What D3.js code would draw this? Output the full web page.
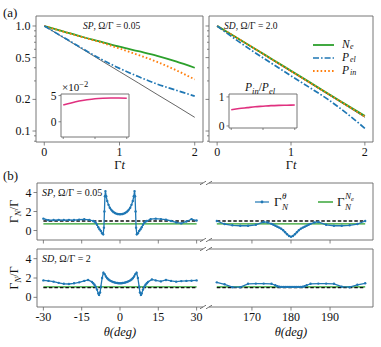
<!DOCTYPE html>
<html>
<head>
<meta charset="utf-8">
<script src="https://cdn.jsdelivr.net/npm/d3@7"></script>
<style>
  body { margin: 0; background: #fff; }
  svg text { font-family: "Liberation Serif", "DejaVu Serif", serif; fill: #111; }
</style>
</head>
<body>
<svg id="chart" width="381" height="347"></svg>
<script>
// ---- panel (a): populations vs Γt ----
const tGrid = [0, 0.25, 0.5, 0.75, 1, 1.25, 1.5, 1.75, 2];
const expRef = [1, 0.779, 0.607, 0.472, 0.368, 0.287, 0.223, 0.174, 0.135];
const neSP  = [1, 0.89, 0.79, 0.71, 0.635, 0.575, 0.52, 0.46, 0.40];
const pelSP = [1, 0.785, 0.615, 0.485, 0.395, 0.33, 0.28, 0.245, 0.215];
const pinSP = [1, 0.885, 0.785, 0.70, 0.61, 0.53, 0.455, 0.38, 0.31];
const neSD  = [1, 0.785, 0.615, 0.48, 0.375, 0.293, 0.228, 0.178, 0.139];
const pelSD = [1, 0.745, 0.565, 0.435, 0.335, 0.26, 0.2, 0.148, 0.106];
const pinSD = [1, 0.783, 0.612, 0.477, 0.372, 0.29, 0.226, 0.176, 0.137];
const insetSP = [3.2, 3.6, 3.95, 4.2, 4.4, 4.5, 4.55, 4.55, 4.5];   // x10^-2
const insetSD = [0.56, 0.6, 0.63, 0.66, 0.68, 0.7, 0.71, 0.715, 0.72];
const logTicks = [1.0, 0.5, 0.2, 0.1];
const logMinor = [0.08, 0.09, 0.3, 0.4, 0.6, 0.7, 0.8, 0.9];
const tTicks = [0, 1, 2];

// ---- panel (b): Γ_N/Γ vs θ ----
const spLeft = [[-30,1.25],[-28,1.08],[-26,1.1],[-24,1.12],[-22,1.1],[-20,1.12],[-18,1.1],[-16,1.15],[-14,1.18],[-12,1.12],
  [-10.5,1.0],[-10,0.95],[-9.5,0.8],[-9,0.6],[-8.5,0.35],[-8,0.12],[-7.5,-0.05],[-7,-0.3],[-6.6,-0.4],[-6.3,0.3],[-6.1,2.0],[-5.9,3.6],[-5.7,4.15],
  [-5.4,3.6],[-5,3.1],[-4.5,2.7],[-4,2.4],[-3.5,2.2],[-3,2.05],[-2.5,1.93],[-2,1.85],[-1.5,1.78],[-1,1.74],[-0.5,1.72],[0,1.71],
  [0.5,1.72],[1,1.74],[1.5,1.78],[2,1.85],[2.5,1.93],[3,2.05],[3.5,2.2],[4,2.4],[4.5,2.7],[5,3.1],[5.4,3.6],[5.7,4.15],[5.9,3.6],[6.1,2.0],
  [6.3,0.3],[6.6,-0.4],[7,-0.3],[7.5,-0.05],[8,0.12],[8.5,0.35],[9,0.6],[9.5,0.8],[10,0.95],[10.5,1.0],
  [12,1.2],[14,1.25],[16,1.2],[18,1.15],[20,1.0],[22,0.85],[24,0.75],[26,0.95],[28,1.2],[30,1.05]];
const spRight = [[161,1.0],[163,0.68],[165,0.55],[167,0.5],[169,0.5],[171,0.6],[173,0.9],[174,0.85],
  [175,0.7],[175.5,0.6],[176,0.5],[176.5,0.4],[177,0.3],[177.5,0.18],[178,0.02],[178.5,-0.18],[179,-0.4],[179.5,-0.58],[180,-0.65],
  [180.5,-0.58],[181,-0.4],[181.5,-0.18],[182,0.02],[182.5,0.18],[183,0.3],[183.5,0.4],[184,0.5],[184.5,0.6],[185,0.7],
  [186,0.85],[187,0.9],[189,0.6],[191,0.5],[193,0.5],[195,0.55],[197,0.68],[199,1.0]];
const sdLeft = [[-30,1.75],[-28,1.7],[-26,1.62],[-24,1.5],[-22,1.4],[-20,1.38],[-18,1.45],[-16,1.55],[-14,1.7],[-12.5,1.8],
  [-11,1.6],[-10.5,1.45],[-10,1.3],[-9.5,1.1],[-9,0.8],[-8.5,0.4],[-8.2,0.25],[-7.8,0.5],[-7.5,1.1],[-7,2.0],[-6.5,2.55],
  [-6,2.4],[-5.5,2.15],[-5,1.98],[-4.5,1.85],[-4,1.75],[-3.5,1.68],[-3,1.62],[-2.5,1.57],[-2,1.53],[-1.5,1.5],[-1,1.48],[-0.5,1.46],[0,1.45],
  [0.5,1.46],[1,1.48],[1.5,1.5],[2,1.53],[2.5,1.57],[3,1.62],[3.5,1.68],[4,1.75],[4.5,1.85],[5,1.98],[5.5,2.15],[6,2.4],[6.5,2.55],
  [7,2.0],[7.5,1.1],[7.8,0.5],[8.2,0.25],[8.5,0.4],[9,0.8],[9.5,1.1],[10,1.3],[10.5,1.45],[11,1.6],
  [12.5,1.85],[14,1.75],[16,1.65],[18,1.8],[20,1.7],[22,1.62],[24,1.68],[26,1.7],[28,1.72],[30,1.75]];
const sdRight = [[161,1.55],[163,1.35],[165,1.05],[167,1.05],[169,1.4],[171,1.42],[173,1.42],[175,1.4],[176,1.25],[176.5,1.15],
  [177,1.1],[177.5,1.08],[178,1.08],[178.5,1.08],[179,1.08],[179.5,1.08],[180,1.08],[180.5,1.08],[181,1.08],[181.5,1.08],[182,1.08],
  [182.5,1.08],[183,1.1],[183.5,1.15],[184,1.25],[185,1.4],[187,1.42],[189,1.42],[191,1.4],[193,1.1],[195,1.05],[197,1.3],[199,1.45]];
const neRateSP = 0.7;   // Γ_N^{Ne}/Γ
const neRateSD = 1.08;
const unitRef = 1.0;     // dashed reference
const thetaTicksL = [-30, -15, 0, 15, 30];
const thetaTicksR = [170, 180, 190];
const gammaTicks = [0, 2, 4];

const colors = { ne: "#2ca02c", pel: "#1f77b4", pin: "#ff7f0e", ratio: "#e0307f" };
const svg = d3.select("#chart");
const spine = "#666";

function box(g, x0, x1, y0, y1, sides) {
  const seg = { t: [x0, y0, x1, y0], b: [x0, y1, x1, y1], l: [x0, y0, x0, y1], r: [x1, y0, x1, y1] };
  sides.split("").forEach(s => {
    const c = seg[s];
    g.append("line").attr("x1", c[0]).attr("y1", c[1]).attr("x2", c[2]).attr("y2", c[3])
      .attr("stroke", spine).attr("stroke-width", 0.9);
  });
}
function xTicks(g, scale, ticks, y, labels, len = 3.5) {
  ticks.forEach(t => {
    g.append("line").attr("x1", scale(t)).attr("x2", scale(t)).attr("y1", y).attr("y2", y + len)
      .attr("stroke", spine).attr("stroke-width", 0.8);
    if (labels) g.append("text").attr("x", scale(t)).attr("y", y + 13.5).attr("text-anchor", "middle")
      .attr("font-size", 12).text(labels(t));
  });
}
function yTicks(g, scale, ticks, x, labels, len = 3.5, size = 12) {
  ticks.forEach(t => {
    g.append("line").attr("x1", x - len).attr("x2", x).attr("y1", scale(t)).attr("y2", scale(t))
      .attr("stroke", spine).attr("stroke-width", 0.8);
    if (labels) g.append("text").attr("x", x - len - 2).attr("y", scale(t) + 4).attr("text-anchor", "end")
      .attr("font-size", size).text(labels(t));
  });
}

// ================= panel (a) =================
const yA = d3.scaleLog().domain([0.0786, 1.245]).range([142, 16]);
const panelsA = [
  { x0: 36, x1: 203, ne: neSP, pel: pelSP, pin: pinSP, label: ["SP", ", Ω/Γ = 0.05"], lx: 83, inset: "sp" },
  { x0: 209, x1: 373, ne: neSD, pel: pelSD, pin: pinSD, label: ["SD", ", Ω/Γ = 2.0"], lx: 224, inset: "sd" }
];
panelsA.forEach((p, i) => {
  const g = svg.append("g");
  const x = d3.scaleLinear().domain([-0.11, 2.11]).range([p.x0, p.x1]);
  const line = vals => d3.line().curve(d3.curveMonotoneX).x((d, k) => x(tGrid[k])).y(d => yA(d))(vals);
  g.append("path").attr("d", line(expRef)).attr("fill", "none").attr("stroke", "#222").attr("stroke-width", 0.7);
  g.append("path").attr("d", line(p.ne)).attr("fill", "none").attr("stroke", colors.ne).attr("stroke-width", 1.8);
  g.append("path").attr("d", line(p.pin)).attr("fill", "none").attr("stroke", colors.pin).attr("stroke-width", 1.9)
    .attr("stroke-dasharray", "1.6,2.2");
  g.append("path").attr("d", line(p.pel)).attr("fill", "none").attr("stroke", colors.pel).attr("stroke-width", 1.7)
    .attr("stroke-dasharray", "6,2,1.6,2");
  box(g, p.x0, p.x1, 16, 142, "tblr");
  xTicks(g, x, tTicks, 142, d => d);
  yTicks(g, yA, logTicks, p.x0, i === 0 ? d3.format(".1f") : null, 3.5, 12);
  yTicks(g, yA, logMinor, p.x0, null, 2);
  g.append("text").attr("x", x(1)).attr("y", 169).attr("text-anchor", "middle").attr("font-size", 12.5)
    .html('Γ<tspan font-style="italic">t</tspan>');
  g.append("text").attr("x", p.lx).attr("y", 29).attr("font-size", 9.5)
    .html(`<tspan font-style="italic">${p.label[0]}</tspan>${p.label[1]}`);

  // inset
  const ins = p.inset === "sp"
    ? { x0: 61, x1: 129, y0: 94, y1: 137, dom: [-2.9, 5.3], vals: insetSP, ticks: [0, 5] }
    : { x0: 229, x1: 297, y0: 94, y1: 128, dom: [-0.07, 1.1], vals: insetSD, ticks: [0, 1] };
  const ix = d3.scaleLinear().domain([-0.07, 2.07]).range([ins.x0, ins.x1]);
  const iy = d3.scaleLinear().domain(ins.dom).range([ins.y1, ins.y0]);
  g.append("rect").attr("x", ins.x0).attr("y", ins.y0).attr("width", ins.x1 - ins.x0).attr("height", ins.y1 - ins.y0)
    .attr("fill", "#fff");
  g.append("path").attr("d", d3.line().curve(d3.curveMonotoneX).x((d, k) => ix(tGrid[k])).y(d => iy(d))(ins.vals))
    .attr("fill", "none").attr("stroke", colors.ratio).attr("stroke-width", 1.6);
  box(g, ins.x0, ins.x1, ins.y0, ins.y1, "tblr");
  xTicks(g, ix, tTicks, ins.y1, null, 2);
  yTicks(g, iy, ins.ticks, ins.x0, d => d, 2.5, 11.5);
  if (p.inset === "sp") {
    g.append("text").attr("x", 62).attr("y", 91).attr("font-size", 11)
      .html('×10<tspan dy="-4" font-size="8.5">−2</tspan>');
  } else {
    g.append("text").attr("x", 245).attr("y", 91).attr("font-size", 11.5)
      .html('<tspan font-style="italic">P</tspan><tspan dy="3" font-size="8.5" font-style="italic">in</tspan><tspan dy="-3">/</tspan><tspan font-style="italic">P</tspan><tspan dy="3" font-size="8.5" font-style="italic">el</tspan>');
  }
});

// legend (a)
const legA = [
  { y: 45, c: colors.ne, dash: null, w: 1.8, main: "N", sub: "e" },
  { y: 58, c: colors.pel, dash: "6,2,1.6,2", w: 1.7, main: "P", sub: "el" },
  { y: 71, c: colors.pin, dash: "1.6,2.2", w: 1.9, main: "P", sub: "in" }
];
legA.forEach(l => {
  svg.append("line").attr("x1", 313).attr("x2", 334).attr("y1", l.y).attr("y2", l.y)
    .attr("stroke", l.c).attr("stroke-width", l.w).attr("stroke-dasharray", l.dash);
  svg.append("text").attr("x", 342).attr("y", l.y + 3).attr("font-size", 11.5).attr("font-style", "italic")
    .text(l.main);
  svg.append("text").attr("x", 350).attr("y", l.y + 3.5).attr("font-size", 8).attr("font-style", "italic")
    .text(l.sub);
});
svg.append("text").attr("x", 3).attr("y", 17).attr("font-size", 13).text("(a)");
svg.append("text").attr("x", 3).attr("y", 180).attr("font-size", 13).text("(b)");

// ================= panel (b) =================
const rowsB = [
  { y0: 183, y1: 240, left: spLeft, right: spRight, ne: neRateSP, label: ["SP", ", Ω/Γ = 0.05"], last: false },
  { y0: 249, y1: 307, left: sdLeft, right: sdRight, ne: neRateSD, label: ["SD", ", Ω/Γ = 2"], last: true }
];
const xL = d3.scaleLinear().domain([-32.5, 32.5]).range([37, 203]);
const xR = d3.scaleLinear().domain([159, 201]).range([209, 373]);
rowsB.forEach(r => {
  const g = svg.append("g");
  const y = d3.scaleLinear().domain([-1, 5]).range([r.y1, r.y0]);
  [[xL, r.left, [-30, 30]], [xR, r.right, [161, 199]]].forEach(([x, data, ext]) => {
    g.append("line").attr("x1", x(ext[0])).attr("x2", x(ext[1])).attr("y1", y(r.ne)).attr("y2", y(r.ne))
      .attr("stroke", colors.ne).attr("stroke-width", 1.4);
    g.append("line").attr("x1", x(ext[0])).attr("x2", x(ext[1])).attr("y1", y(unitRef)).attr("y2", y(unitRef))
      .attr("stroke", "#111").attr("stroke-width", 1.3).attr("stroke-dasharray", "3.5,2");
    g.append("path").attr("d", d3.line().x(d => x(d[0])).y(d => y(d[1]))(data))
      .attr("fill", "none").attr("stroke", colors.pel).attr("stroke-width", 1.3);
    g.selectAll(null).data(data).enter().append("circle")
      .attr("cx", d => x(d[0])).attr("cy", d => y(d[1])).attr("r", 1.2).attr("fill", colors.pel);
  });
  box(g, 37, 203, r.y0, r.y1, "tbl");
  box(g, 209, 373, r.y0, r.y1, "tbr");
  // broken-axis marks
  [[203, r.y0], [203, r.y1], [209, r.y0], [209, r.y1]].forEach(([bx, by]) => {
    g.append("line").attr("x1", bx - 3).attr("y1", by + 1.8).attr("x2", bx + 3).attr("y2", by - 1.8)
      .attr("stroke", spine).attr("stroke-width", 0.9);
  });
  xTicks(g, xL, thetaTicksL, r.y1, r.last ? d => d : null);
  xTicks(g, xR, thetaTicksR, r.y1, r.last ? d => d : null);
  yTicks(g, y, gammaTicks, 37, d => d);
  g.append("text").attr("x", 42).attr("y", r.y0 + 13).attr("font-size", 10)
    .html(`<tspan font-style="italic">${r.label[0]}</tspan>${r.label[1]}`);
  const cy = (r.y0 + r.y1) / 2;
  g.append("text").attr("transform", `translate(18,${cy}) rotate(-90)`).attr("text-anchor", "middle")
    .attr("font-size", 12).html('Γ<tspan dy="3" font-size="9" font-style="italic">N</tspan><tspan dy="-3">/Γ</tspan>');
});
svg.append("text").attr("x", xL(0)).attr("y", 336).attr("text-anchor", "middle").attr("font-size", 12.5)
  .attr("font-style", "italic").text("θ(deg)");
svg.append("text").attr("x", xR(180)).attr("y", 336).attr("text-anchor", "middle").attr("font-size", 12.5)
  .attr("font-style", "italic").text("θ(deg)");

// legend (b)
svg.append("line").attr("x1", 255).attr("x2", 269).attr("y1", 202).attr("y2", 202)
  .attr("stroke", colors.pel).attr("stroke-width", 1.2);
svg.append("circle").attr("cx", 262).attr("cy", 202).attr("r", 1.4).attr("fill", colors.pel);
svg.append("text").attr("x", 274).attr("y", 206).attr("font-size", 13).text("Γ");
svg.append("text").attr("x", 282).attr("y", 210).attr("font-size", 9).attr("font-style", "italic").text("N");
svg.append("text").attr("x", 282).attr("y", 199).attr("font-size", 9).attr("font-style", "italic").text("θ");
svg.append("line").attr("x1", 318).attr("x2", 333).attr("y1", 202).attr("y2", 202)
  .attr("stroke", colors.ne).attr("stroke-width", 1.4);
svg.append("text").attr("x", 337).attr("y", 206).attr("font-size", 13).text("Γ");
svg.append("text").attr("x", 345).attr("y", 210).attr("font-size", 9).attr("font-style", "italic").text("N");
svg.append("text").attr("x", 345).attr("y", 199).attr("font-size", 9).attr("font-style", "italic")
  .html('N<tspan dy="2" font-size="6.5">e</tspan>');
</script>
</body>
</html>
